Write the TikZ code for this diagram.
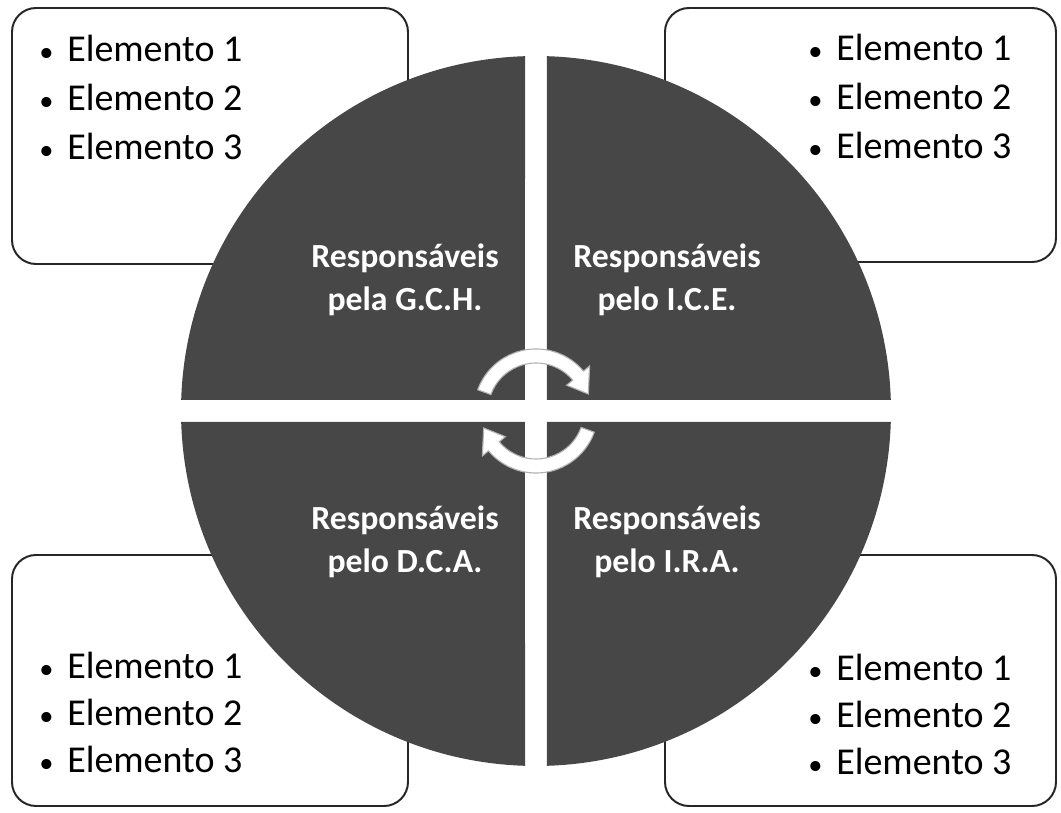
\documentclass[tikz,border=0pt]{standalone}
\usepackage{fontspec}
\setmainfont{Carlito}
\tikzset{
  quarter/.style={fill=black!72},
  listbox/.style={draw=black!85, line width=1.4pt, fill=white, rounded corners=0.6cm},
  item/.style={anchor=base west, inner sep=0pt, font=\fontsize{27}{31}\selectfont},
  quadlabel/.style={text=white, align=center, inner sep=0pt, font=\fontsize{24}{31}\selectfont\bfseries},
  cyclearrow/.style={fill=white, draw=gray!60, line width=0.8pt}
}
\newcommand{\bul}{\makebox[0.75cm][l]{\hspace{0.05cm}\scalebox{0.75}{\textbullet}}}

\begin{document}
\begin{tikzpicture}[x=0.025cm, y=0.025cm]
\useasboundingbox (-536,-402) rectangle (525,411);
% caixas dos elementos
\draw[listbox] (-524,147) rectangle (-128,403);
\draw[listbox] (129,149) rectangle (520,403);
\draw[listbox] (-524,-395) rectangle (-128,-144);
\draw[listbox] (129,-395) rectangle (520,-144);
% circulo em quatro partes
\foreach \a in {0,90,180,270}
  \fill[quarter, rotate=\a] (11,11) -- (88.224:355)
    arc[start angle=88.224, end angle=1.776, radius=355] -- cycle;
% setas do ciclo
\foreach \a in {0,180}
  \filldraw[cyclearrow, rotate=\a] (160:62)
    arc[start angle=160, end angle=40, radius=62] -- (40:70) -- (18:55)
    -- (40:40) -- (40:48) arc[start angle=40, end angle=160, radius=48] -- cycle;
\node[quadlabel] (gch) at (-131,131) {Responsáveis\\pela G.C.H.};
\node[quadlabel] (ice) at (131,131) {Responsáveis\\pelo I.C.E.};
\node[quadlabel] (dca) at (-131,-131) {Responsáveis\\pelo D.C.A.};
\node[quadlabel] (ira) at (131,-131) {Responsáveis\\pelo I.R.A.};
\foreach \i in {1,2,3}
{
  \node[item] (gch-\i) at (-499,{398-49*\i}) {\bul Elemento \i};
  \node[item] (ice-\i) at (270,{399-49*\i}) {\bul Elemento \i};
  \node[item] (dca-\i) at (-499,{-221-47*\i}) {\bul Elemento \i};
  \node[item] (ira-\i) at (270,{-223-47*\i}) {\bul Elemento \i};
}
\end{tikzpicture}
\end{document}
